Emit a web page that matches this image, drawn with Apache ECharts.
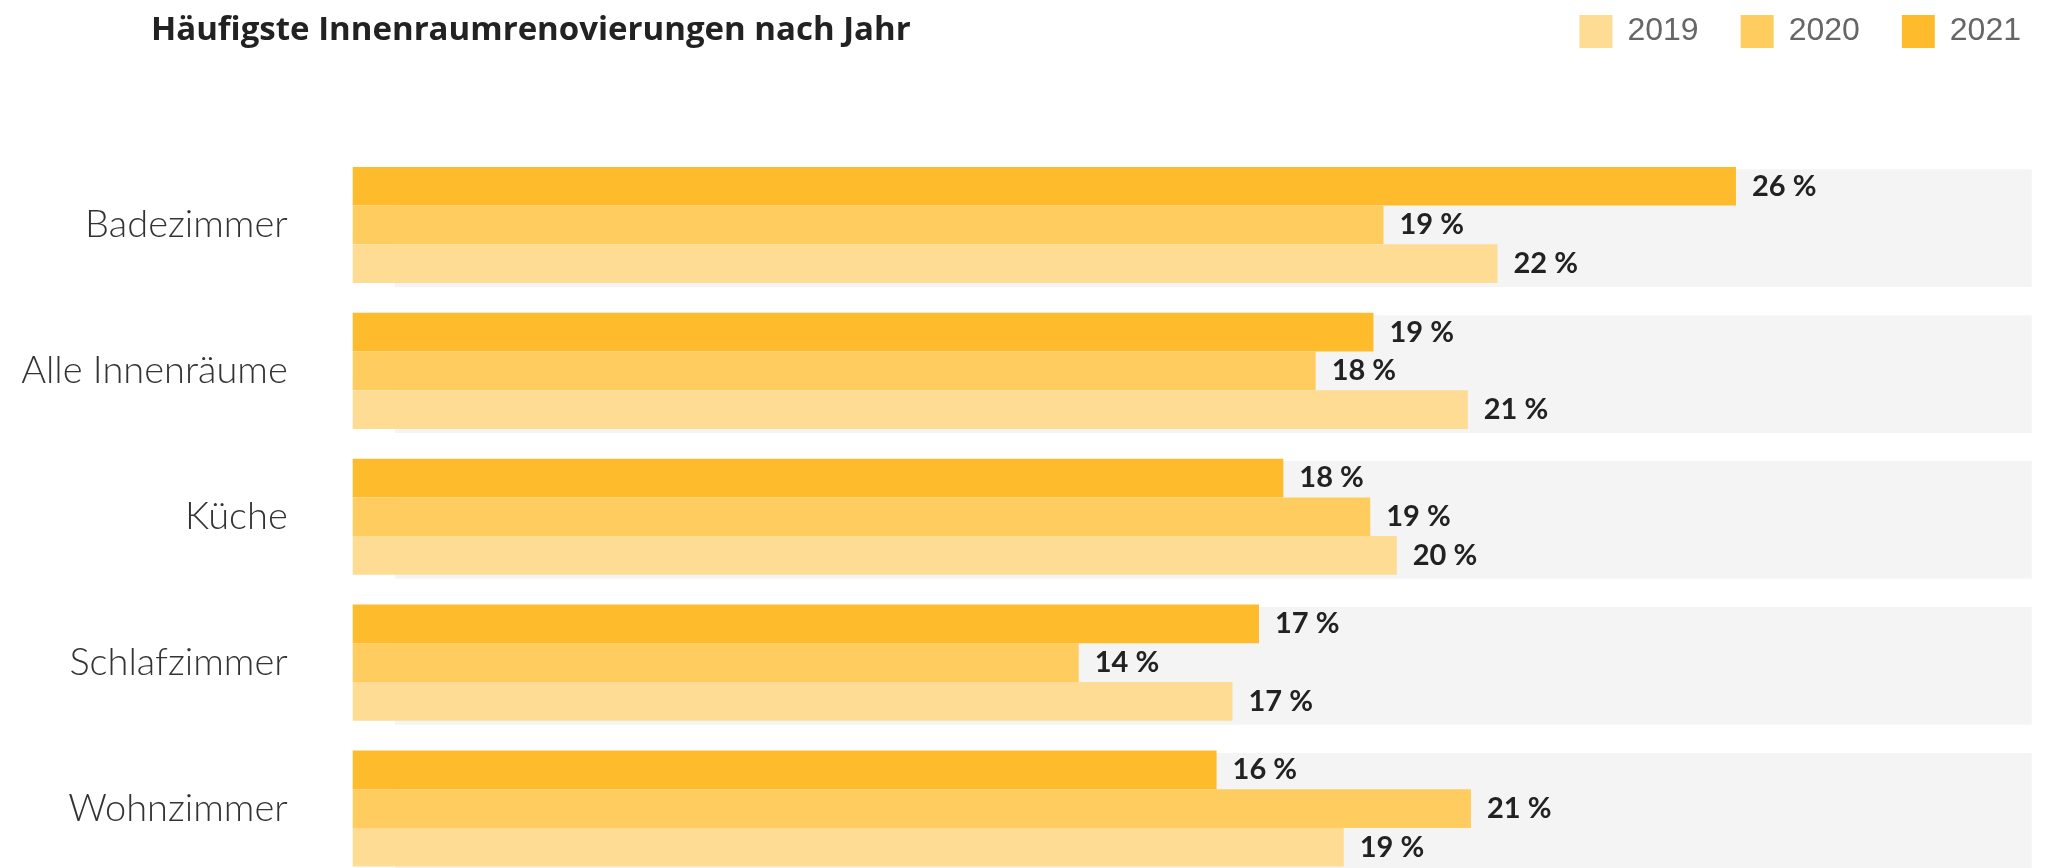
<!DOCTYPE html>
<html lang="de">
<head>
    <meta charset="utf-8" />
    <style>
        html, body { margin: 0; padding: 0; background: #fff; overflow: hidden; }
        #view1 { width: 2051px; height: 900px; }
    </style>
</head>
<body>

<div id="view1"></div>

<script src="https://cdn.jsdelivr.net/npm/echarts@6/dist/echarts.min.js"></script>

<script>
    // Kategorien von oben nach unten
    var categories = ["Badezimmer", "Alle Innenräume", "Küche", "Schlafzimmer", "Wohnzimmer"];
    var years = ["2019", "2020", "2021"];

    // Anteile in Prozent (aus dem Bild geschätzt)
    var values2021 = [26.1, 19.26, 17.56, 17.1, 16.3];
    var values2020 = [19.45, 18.17, 19.2, 13.7, 21.1];
    var values2019 = [21.6, 21.04, 19.7, 16.6, 18.7];

    var colors = { "2019": "#FEDC93", "2020": "#FFCD5F", "2021": "#FEBC2C" };

    window.onload = function () {
        var chart = echarts.init(document.getElementById("view1"));

        function barSeries(name, data) {
            return {
                name: name,
                type: "bar",
                xAxisIndex: 0,
                yAxisIndex: 0,
                data: data,
                barWidth: 38.7,
                barGap: "0%",
                z: 3,
                itemStyle: { color: colors[name] },
                label: {
                    show: true,
                    position: "right",
                    distance: 16,
                    fontFamily: "Lato",
                    fontWeight: "bold",
                    fontSize: 29,
                    color: "#222",
                    formatter: function (p) { return Math.round(p.value) + " %"; }
                }
            };
        }

        var option = {
            animation: false,
            title: {
                text: "Häufigste Innenraumrenovierungen nach Jahr",
                left: 146,
                top: 9,
                textStyle: { fontFamily: "Open Sans", fontWeight: "bold", fontSize: 33, color: "#222" }
            },
            legend: {
                data: years,
                right: 25,
                top: 10,
                icon: "rect",
                itemWidth: 33,
                itemHeight: 33,
                itemGap: 42,
                textStyle: { fontFamily: "Liberation Sans", fontSize: 32, color: "#666", padding: [0, 0, 0, 10] }
            },
            grid: [
                { left: 352.7, right: 19.3, top: 152, height: 729.5 },
                { left: 395, right: 19.3, top: 155.2, height: 729.5 }
            ],
            xAxis: [
                { gridIndex: 0, type: "value", min: 0, max: 31.68, show: false },
                { gridIndex: 1, type: "value", min: 0, max: 1, show: false }
            ],
            yAxis: [
                {
                    gridIndex: 0,
                    type: "category",
                    data: categories,
                    inverse: true,
                    axisLine: { show: false },
                    axisTick: { show: false },
                    axisLabel: {
                        margin: 65,
                        fontFamily: "Lato",
                        fontWeight: 300,
                        fontSize: 38,
                        color: "#333"
                    }
                },
                { gridIndex: 1, type: "category", data: categories, inverse: true, show: false }
            ],
            series: [
                {
                    name: "bg",
                    type: "bar",
                    xAxisIndex: 1,
                    yAxisIndex: 1,
                    data: categories.map(function () { return 1; }),
                    barWidth: 117.7,
                    silent: true,
                    z: 1,
                    itemStyle: { color: "#F4F4F4" }
                },
                barSeries("2021", values2021),
                barSeries("2020", values2020),
                barSeries("2019", values2019)
            ]
        };

        chart.setOption(option);
    };
</script>

</body>
</html>
